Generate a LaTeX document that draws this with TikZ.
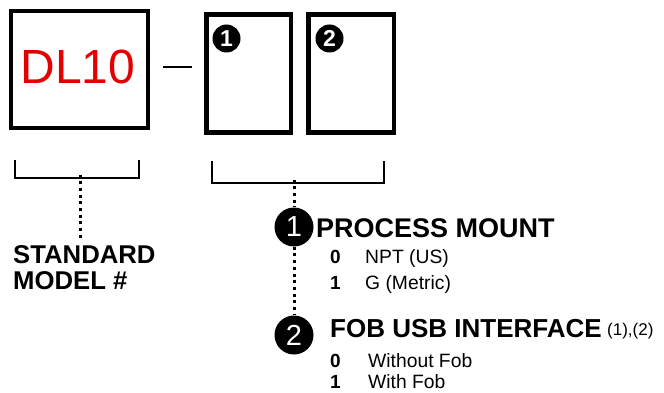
\documentclass[tikz,border=0pt]{standalone}
\usepackage{fontspec}
\setmainfont{Liberation Sans}
\definecolor{dlred}{RGB}{228,0,0}
\begin{document}
\begin{tikzpicture}[x=1pt,y=-1pt,
  box/.style={draw, line width=4.5pt, inner sep=0pt, minimum height=118pt},
  bracket/.style={line width=2pt},
  dots/.style={line width=3pt, dash pattern=on 3pt off 3.7pt},
  smallnum/.style={circle, fill=black, text=white, inner sep=0pt, minimum size=28pt, font=\fontsize{23}{23}\selectfont\bfseries},
  bignum/.style={circle, fill=black, text=white, inner sep=0pt, minimum size=39pt, font=\fontsize{29}{29}\selectfont},
  head/.style={anchor=base west, inner sep=0pt, font=\fontsize{27}{27}\selectfont\bfseries},
  code/.style={anchor=base west, inner sep=0pt, font=\fontsize{19}{19}\selectfont\bfseries},
  desc/.style={anchor=base west, inner sep=0pt, font=\fontsize{19.3}{19}\selectfont},
  model/.style={anchor=base west, inner sep=0pt, font=\fontsize{25.7}{26}\selectfont\bfseries}
]
\useasboundingbox (0,0) rectangle (664,393);
% boxes
\node[box, minimum width=137pt, minimum height=117pt] (dl) at (79.5,69.5) {};
\node[text=dlred, inner sep=0pt, font=\fontsize{48}{48}\selectfont] (dltext) at (78,66.5) {DL10};
\node[box, minimum width=84.5pt] (b1) at (248.75,73.5) {};
\node[box, minimum width=85.5pt] (b2) at (351.25,73.5) {};
\node[smallnum] (n1) at (226.5,38.5) {1};
\node[smallnum] (n2) at (329.5,38.5) {2};
% dash
\coordinate (d1) at (163,67);
\coordinate (d2) at (192,67);
\draw[line width=2pt] (d1) -- (d2);
% left bracket
\coordinate (lbl) at (15,160);
\coordinate (lbr) at (139,160);
\coordinate (lbm) at (80,178);
\coordinate (lbend) at (80,240);
\draw[bracket] (lbl) |- (lbr |- lbm) -- (lbr);
\draw[dots] ([yshift=3.5pt]lbm) -- (lbend);
% right bracket
\coordinate (rbl) at (212,161);
\coordinate (rbr) at (384,161);
\coordinate (rbm) at (294,183);
\draw[bracket] (rbl) |- (rbr |- rbm) -- (rbr);
% big circles
\node[bignum] (c1) at (294,227) {1};
\node[bignum] (c2) at (294,335) {2};
\draw[dots] ([yshift=3.5pt]rbm) -- (c1);
\draw[dots] (c1) -- (c2);
% standard model
\node[model] (std1) at (13,263) {STANDARD};
\node[model] (std2) at (13,289) {MODEL \#};
% process mount
\node[head] (pm) at (316,237) {PROCESS MOUNT};
\node[code] (pm0) at (330,263) {0};
\node[desc] (pm0t) at (365,263) {NPT (US)};
\node[code] (pm1) at (330,289) {1};
\node[desc] (pm1t) at (365,289) {G (Metric)};
% fob
\node[head, font=\fontsize{26}{26}\selectfont\bfseries] (fob) at (330,337) {FOB USB INTERFACE};
\node[anchor=base west, inner sep=0pt, font=\fontsize{17}{17}\selectfont] (fobn) at ([xshift=5pt,yshift=2pt]fob.base east) {(1),(2)};
\node[code] (fb0) at (330,367) {0};
\node[desc] (fb0t) at (368,367) {Without Fob};
\node[code] (fb1) at (330,388.5) {1};
\node[desc] (fb1t) at (368,388.5) {With Fob};
\end{tikzpicture}
\end{document}
